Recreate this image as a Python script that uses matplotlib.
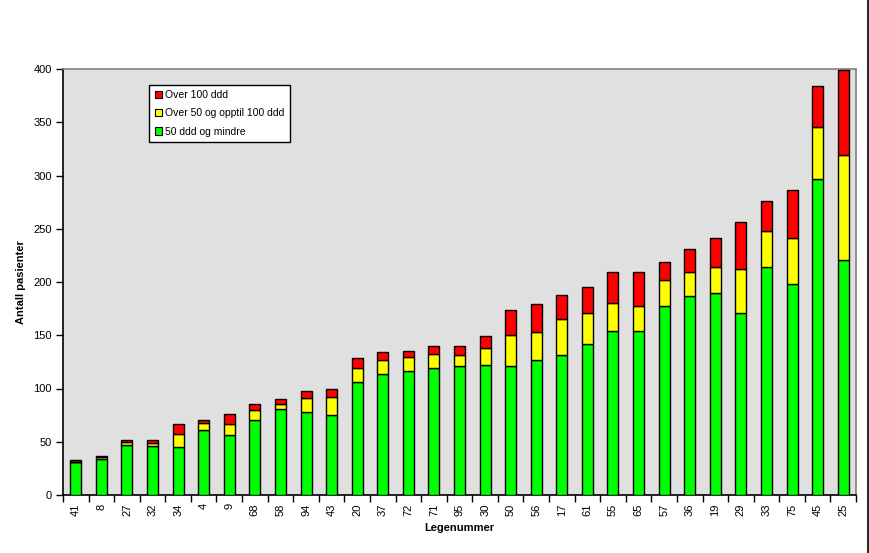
from __future__ import annotations

import matplotlib

matplotlib.use("Agg")
import matplotlib.pyplot as plt
from matplotlib.lines import Line2D
from matplotlib.patches import Patch

legenummer = [
    "41", "8", "27", "32", "34", "4", "9", "68", "58", "94", "43",
    "20", "37", "72", "71", "95", "30", "50", "56", "17", "61", "55",
    "65", "57", "36", "19", "29", "33", "75", "45", "25",
]
green_values = [
    31, 34, 47, 46, 45, 61, 56, 70, 81, 78, 75,
    106, 114, 116, 119, 121, 122, 121, 127, 131, 142, 154,
    154, 177, 187, 190, 171, 214, 198, 297, 221,
]
yellow_values = [
    0, 2, 3, 3, 12, 7, 11, 10, 4, 13, 17,
    13, 13, 14, 13, 10, 16, 29, 26, 34, 29, 26,
    23, 25, 22, 24, 41, 34, 43, 49, 98,
]
red_values = [
    2, 1, 2, 3, 10, 2, 9, 5, 5, 7, 8,
    10, 7, 5, 8, 9, 11, 24, 26, 23, 24, 29,
    32, 17, 22, 27, 44, 28, 45, 38, 80,
]
series_labels = ["50 ddd og mindre", "Over 50 og opptil 100 ddd", "Over 100 ddd"]
series_colors = ["#00ff00", "#ffff00", "#ff0000"]
y_ticks = [0, 50, 100, 150, 200, 250, 300, 350, 400]


def draw_bars(ax: plt.Axes) -> None:
    positions = [i + 0.5 for i in range(len(legenummer))]
    bottom = [0] * len(legenummer)
    for values, color, label in zip(
        [green_values, yellow_values, red_values], series_colors, series_labels
    ):
        ax.bar(
            positions,
            values,
            bottom=bottom,
            width=0.43,
            color=color,
            edgecolor="black",
            linewidth=1.0,
            label=label,
            zorder=3,
        )
        bottom = [b + v for b, v in zip(bottom, values)]


def style_axes(ax: plt.Axes) -> None:
    ax.set_facecolor("#e0e0e0")
    ax.set_xlim(0, len(legenummer))
    ax.set_ylim(0, 400)

    ax.set_xticks(range(len(legenummer) + 1))
    ax.set_xticklabels([])
    ax.set_xticks([i + 0.5 for i in range(len(legenummer))], minor=True)
    ax.set_xticklabels(legenummer, minor=True, rotation=90, fontsize=8)
    ax.tick_params(axis="x", which="major", direction="out", length=5, width=1)
    ax.tick_params(axis="x", which="minor", length=0, pad=6)

    ax.set_yticks(y_ticks)
    ax.tick_params(axis="y", direction="out", length=5, width=1, labelsize=8, pad=3)

    for side in ["top", "right"]:
        ax.spines[side].set_color("#808080")
        ax.spines[side].set_linewidth(1.2)
    for side in ["left", "bottom"]:
        ax.spines[side].set_color("black")
        ax.spines[side].set_linewidth(1.2)

    ax.set_xlabel("Legenummer", fontsize=8, fontweight="bold", labelpad=5)
    ax.set_ylabel("Antall pasienter", fontsize=8, fontweight="bold", labelpad=5)


def draw_legend(ax: plt.Axes) -> None:
    handles = [
        Patch(facecolor=color, edgecolor="black", linewidth=0.8, label=label)
        for color, label in zip(series_colors, series_labels)
    ][::-1]
    legend = ax.legend(
        handles=handles,
        loc="upper left",
        bbox_to_anchor=(0.109, 0.963),
        fontsize=7.5,
        frameon=True,
        fancybox=False,
        edgecolor="black",
        framealpha=1.0,
        handlelength=0.7,
        handleheight=0.7,
        handletextpad=0.3,
        labelspacing=0.8,
        borderpad=0.5,
        borderaxespad=0,
    )
    legend.get_frame().set_linewidth(1.0)
    legend.set_zorder(5)


def main() -> None:
    plt.rcParams["font.family"] = ["Liberation Sans", "DejaVu Sans"]

    fig = plt.figure(figsize=(8.69, 5.53), dpi=100)
    ax = fig.add_axes([63 / 869, 58 / 553, 793 / 869, 426 / 553])

    draw_bars(ax)
    style_axes(ax)
    draw_legend(ax)

    fig.add_artist(
        Line2D([867.5 / 869, 867.5 / 869], [0, 1], transform=fig.transFigure,
               color="black", linewidth=1.2)
    )

    fig.savefig("out.png", dpi=100)
    plt.close(fig)


if __name__ == "__main__":
    main()
